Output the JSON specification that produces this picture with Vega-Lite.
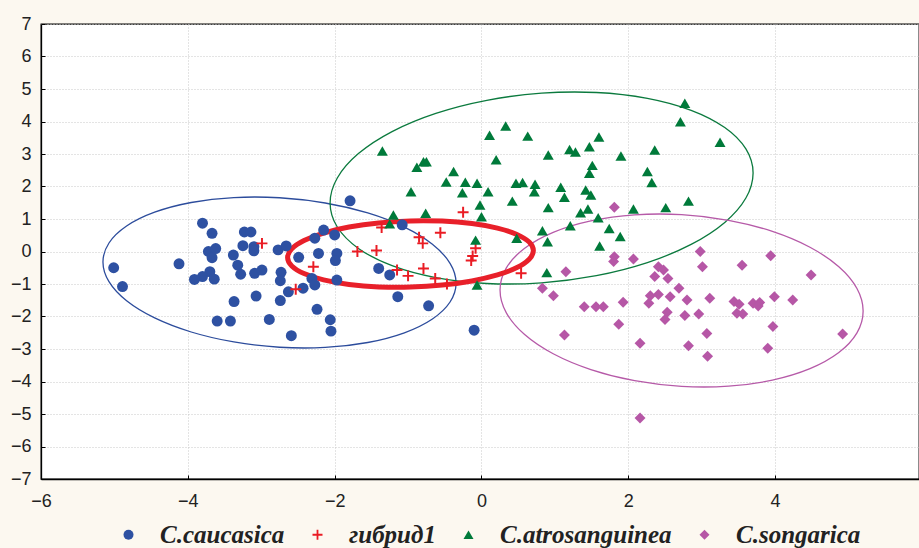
{
  "$schema": "https://vega.github.io/schema/vega-lite/v6.json",
  "autosize": "none",
  "padding": {"left": 41, "top": 24, "right": 0, "bottom": 69},
  "width": 878,
  "height": 455,
  "background": "#fcf8f0",
  "config": {
    "view": {"stroke": "#000000", "strokeWidth": 1.3, "fill": "#ffffff"}
  },
  "datasets": {
    "ell": [
      {"g":"b","i":0,"x":-0.346,"y":-0.969},{"g":"b","i":1,"x":-0.428,"y":-0.363},{"g":"b","i":2,"x":-0.668,"y":0.224},{"g":"b","i":3,"x":-1.050,"y":0.752},{"g":"b","i":4,"x":-1.549,"y":1.185},{"g":"b","i":5,"x":-2.129,"y":1.492},{"g":"b","i":6,"x":-2.751,"y":1.654},{"g":"b","i":7,"x":-3.373,"y":1.660},{"g":"b","i":8,"x":-3.954,"y":1.508},{"g":"b","i":9,"x":-4.452,"y":1.209},{"g":"b","i":10,"x":-4.834,"y":0.784},{"g":"b","i":11,"x":-5.074,"y":0.262},{"g":"b","i":12,"x":-5.156,"y":-0.323},{"g":"b","i":13,"x":-5.074,"y":-0.929},{"g":"b","i":14,"x":-4.834,"y":-1.516},{"g":"b","i":15,"x":-4.452,"y":-2.044},{"g":"b","i":16,"x":-3.954,"y":-2.477},{"g":"b","i":17,"x":-3.373,"y":-2.784},{"g":"b","i":18,"x":-2.751,"y":-2.946},{"g":"b","i":19,"x":-2.129,"y":-2.952},{"g":"b","i":20,"x":-1.549,"y":-2.800},{"g":"b","i":21,"x":-1.050,"y":-2.501},{"g":"b","i":22,"x":-0.668,"y":-2.076},{"g":"b","i":23,"x":-0.428,"y":-1.554},
      {"g":"g","i":0,"x":3.700,"y":2.416},{"g":"g","i":1,"x":3.602,"y":3.155},{"g":"g","i":2,"x":3.314,"y":3.813},{"g":"g","i":3,"x":2.856,"y":4.344},{"g":"g","i":4,"x":2.260,"y":4.712},{"g":"g","i":5,"x":1.565,"y":4.892},{"g":"g","i":6,"x":0.819,"y":4.872},{"g":"g","i":7,"x":0.073,"y":4.652},{"g":"g","i":8,"x":-0.622,"y":4.250},{"g":"g","i":9,"x":-1.218,"y":3.690},{"g":"g","i":10,"x":-1.676,"y":3.013},{"g":"g","i":11,"x":-1.964,"y":2.263},{"g":"g","i":12,"x":-2.062,"y":1.492},{"g":"g","i":13,"x":-1.964,"y":0.753},{"g":"g","i":14,"x":-1.676,"y":0.095},{"g":"g","i":15,"x":-1.218,"y":-0.436},{"g":"g","i":16,"x":-0.622,"y":-0.804},{"g":"g","i":17,"x":0.073,"y":-0.984},{"g":"g","i":18,"x":0.819,"y":-0.964},{"g":"g","i":19,"x":1.565,"y":-0.744},{"g":"g","i":20,"x":2.260,"y":-0.342},{"g":"g","i":21,"x":2.856,"y":0.218},{"g":"g","i":22,"x":3.314,"y":0.895},{"g":"g","i":23,"x":3.602,"y":1.645},
      {"g":"m","i":0,"x":5.199,"y":-1.833},{"g":"m","i":1,"x":5.115,"y":-1.137},{"g":"m","i":2,"x":4.868,"y":-0.468},{"g":"m","i":3,"x":4.475,"y":0.131},{"g":"m","i":4,"x":3.963,"y":0.618},{"g":"m","i":5,"x":3.366,"y":0.960},{"g":"m","i":6,"x":2.726,"y":1.134},{"g":"m","i":7,"x":2.086,"y":1.128},{"g":"m","i":8,"x":1.490,"y":0.942},{"g":"m","i":9,"x":0.977,"y":0.590},{"g":"m","i":10,"x":0.584,"y":0.094},{"g":"m","i":11,"x":0.337,"y":-0.511},{"g":"m","i":12,"x":0.253,"y":-1.184},{"g":"m","i":13,"x":0.337,"y":-1.879},{"g":"m","i":14,"x":0.584,"y":-2.548},{"g":"m","i":15,"x":0.977,"y":-3.147},{"g":"m","i":16,"x":1.490,"y":-3.634},{"g":"m","i":17,"x":2.086,"y":-3.976},{"g":"m","i":18,"x":2.726,"y":-4.150},{"g":"m","i":19,"x":3.366,"y":-4.144},{"g":"m","i":20,"x":3.963,"y":-3.958},{"g":"m","i":21,"x":4.475,"y":-3.606},{"g":"m","i":22,"x":4.868,"y":-3.110},{"g":"m","i":23,"x":5.115,"y":-2.505},
      {"g":"r","i":0,"x":0.707,"y":0.030},{"g":"r","i":1,"x":0.650,"y":0.290},{"g":"r","i":2,"x":0.483,"y":0.525},{"g":"r","i":3,"x":0.217,"y":0.720},{"g":"r","i":4,"x":-0.130,"y":0.859},{"g":"r","i":5,"x":-0.534,"y":0.935},{"g":"r","i":6,"x":-0.967,"y":0.942},{"g":"r","i":7,"x":-1.400,"y":0.880},{"g":"r","i":8,"x":-1.804,"y":0.752},{"g":"r","i":9,"x":-2.151,"y":0.568},{"g":"r","i":10,"x":-2.417,"y":0.340},{"g":"r","i":11,"x":-2.584,"y":0.083},{"g":"r","i":12,"x":-2.641,"y":-0.184},{"g":"r","i":13,"x":-2.584,"y":-0.444},{"g":"r","i":14,"x":-2.417,"y":-0.679},{"g":"r","i":15,"x":-2.151,"y":-0.874},{"g":"r","i":16,"x":-1.804,"y":-1.013},{"g":"r","i":17,"x":-1.400,"y":-1.089},{"g":"r","i":18,"x":-0.967,"y":-1.096},{"g":"r","i":19,"x":-0.534,"y":-1.034},{"g":"r","i":20,"x":-0.130,"y":-0.906},{"g":"r","i":21,"x":0.217,"y":-0.722},{"g":"r","i":22,"x":0.483,"y":-0.494},{"g":"r","i":23,"x":0.650,"y":-0.237}
    ],
    "pts": [
      {"sp":"C.caucasica","x":-5.01,"y":-0.50},{"sp":"C.caucasica","x":-4.89,"y":-1.08},{"sp":"C.caucasica","x":-4.12,"y":-0.38},{"sp":"C.caucasica","x":-3.80,"y":0.87},{"sp":"C.caucasica","x":-3.67,"y":0.56},{"sp":"C.caucasica","x":-3.72,"y":0.0},{"sp":"C.caucasica","x":-3.62,"y":0.09},{"sp":"C.caucasica","x":-3.67,"y":-0.19},{"sp":"C.caucasica","x":-3.70,"y":-0.62},{"sp":"C.caucasica","x":-3.64,"y":-0.85},{"sp":"C.caucasica","x":-3.80,"y":-0.77},{"sp":"C.caucasica","x":-3.91,"y":-0.86},{"sp":"C.caucasica","x":-3.23,"y":0.60},{"sp":"C.caucasica","x":-3.14,"y":0.60},{"sp":"C.caucasica","x":-3.25,"y":0.18},{"sp":"C.caucasica","x":-3.10,"y":0.15},{"sp":"C.caucasica","x":-3.10,"y":0.02},{"sp":"C.caucasica","x":-3.38,"y":-0.11},{"sp":"C.caucasica","x":-3.32,"y":-0.42},{"sp":"C.caucasica","x":-3.28,"y":-0.70},{"sp":"C.caucasica","x":-3.09,"y":-0.67},{"sp":"C.caucasica","x":-2.99,"y":-0.57},{"sp":"C.caucasica","x":-2.77,"y":0.05},{"sp":"C.caucasica","x":-2.66,"y":0.17},{"sp":"C.caucasica","x":-2.73,"y":-0.64},{"sp":"C.caucasica","x":-2.74,"y":-0.90},{"sp":"C.caucasica","x":-2.63,"y":-1.24},{"sp":"C.caucasica","x":-2.74,"y":-1.51},{"sp":"C.caucasica","x":-3.07,"y":-1.37},{"sp":"C.caucasica","x":-3.37,"y":-1.54},{"sp":"C.caucasica","x":-3.60,"y":-2.14},{"sp":"C.caucasica","x":-3.42,"y":-2.14},{"sp":"C.caucasica","x":-2.89,"y":-2.09},{"sp":"C.caucasica","x":-2.59,"y":-2.59},{"sp":"C.caucasica","x":-2.49,"y":-0.18},{"sp":"C.caucasica","x":-1.79,"y":1.56},{"sp":"C.caucasica","x":-1.08,"y":0.82},{"sp":"C.caucasica","x":-2.15,"y":0.66},{"sp":"C.caucasica","x":-2.00,"y":0.51},{"sp":"C.caucasica","x":-2.27,"y":0.41},{"sp":"C.caucasica","x":-2.22,"y":-0.06},{"sp":"C.caucasica","x":-1.97,"y":-0.06},{"sp":"C.caucasica","x":-1.99,"y":-0.28},{"sp":"C.caucasica","x":-2.31,"y":-0.83},{"sp":"C.caucasica","x":-2.27,"y":-1.03},{"sp":"C.caucasica","x":-1.97,"y":-0.88},{"sp":"C.caucasica","x":-2.43,"y":-1.13},{"sp":"C.caucasica","x":-1.40,"y":-0.52},{"sp":"C.caucasica","x":-1.25,"y":-0.72},{"sp":"C.caucasica","x":-1.14,"y":-1.39},{"sp":"C.caucasica","x":-0.72,"y":-1.67},{"sp":"C.caucasica","x":-2.24,"y":-1.78},{"sp":"C.caucasica","x":-2.06,"y":-2.10},{"sp":"C.caucasica","x":-2.05,"y":-2.45},{"sp":"C.caucasica","x":-0.10,"y":-2.42},
      {"sp":"гибрид1","x":-2.99,"y":0.25},{"sp":"гибрид1","x":-2.53,"y":-1.16},{"sp":"гибрид1","x":-2.29,"y":-0.47},{"sp":"гибрид1","x":-1.69,"y":0.0},{"sp":"гибрид1","x":-1.43,"y":0.03},{"sp":"гибрид1","x":-1.36,"y":0.74},{"sp":"гибрид1","x":-0.85,"y":0.44},{"sp":"гибрид1","x":-0.80,"y":0.25},{"sp":"гибрид1","x":-0.56,"y":0.58},{"sp":"гибрид1","x":-0.25,"y":1.21},{"sp":"гибрид1","x":-0.08,"y":0.10},{"sp":"гибрид1","x":-0.12,"y":-0.14},{"sp":"гибрид1","x":-0.14,"y":-0.28},{"sp":"гибрид1","x":-1.15,"y":-0.57},{"sp":"гибрид1","x":-1.0,"y":-0.75},{"sp":"гибрид1","x":-0.79,"y":-0.52},{"sp":"гибрид1","x":-0.63,"y":-0.83},{"sp":"гибрид1","x":-0.47,"y":-1.0},{"sp":"гибрид1","x":0.54,"y":-0.67},
      {"sp":"C.atrosanguinea","x":-1.35,"y":3.09},{"sp":"C.atrosanguinea","x":-0.88,"y":2.59},{"sp":"C.atrosanguinea","x":-0.79,"y":2.76},{"sp":"C.atrosanguinea","x":-0.75,"y":2.76},{"sp":"C.atrosanguinea","x":-0.38,"y":2.46},{"sp":"C.atrosanguinea","x":-0.96,"y":1.84},{"sp":"C.atrosanguinea","x":-0.48,"y":2.14},{"sp":"C.atrosanguinea","x":-0.22,"y":2.13},{"sp":"C.atrosanguinea","x":-0.06,"y":2.10},{"sp":"C.atrosanguinea","x":-0.26,"y":1.81},{"sp":"C.atrosanguinea","x":0.09,"y":1.84},{"sp":"C.atrosanguinea","x":0.11,"y":3.58},{"sp":"C.atrosanguinea","x":0.33,"y":3.86},{"sp":"C.atrosanguinea","x":0.20,"y":2.82},{"sp":"C.atrosanguinea","x":-0.02,"y":1.43},{"sp":"C.atrosanguinea","x":0.0,"y":1.07},{"sp":"C.atrosanguinea","x":0.42,"y":1.55},{"sp":"C.atrosanguinea","x":0.47,"y":2.10},{"sp":"C.atrosanguinea","x":-0.76,"y":1.18},{"sp":"C.atrosanguinea","x":-1.20,"y":1.12},{"sp":"C.atrosanguinea","x":-1.25,"y":0.85},{"sp":"C.atrosanguinea","x":-0.08,"y":0.35},{"sp":"C.atrosanguinea","x":0.48,"y":0.41},{"sp":"C.atrosanguinea","x":-0.06,"y":-1.03},{"sp":"C.atrosanguinea","x":0.63,"y":3.55},{"sp":"C.atrosanguinea","x":0.91,"y":2.97},{"sp":"C.atrosanguinea","x":1.20,"y":3.14},{"sp":"C.atrosanguinea","x":1.28,"y":3.06},{"sp":"C.atrosanguinea","x":1.47,"y":3.22},{"sp":"C.atrosanguinea","x":1.60,"y":3.52},{"sp":"C.atrosanguinea","x":1.51,"y":2.65},{"sp":"C.atrosanguinea","x":1.47,"y":2.41},{"sp":"C.atrosanguinea","x":1.90,"y":2.94},{"sp":"C.atrosanguinea","x":2.36,"y":3.12},{"sp":"C.atrosanguinea","x":2.77,"y":4.56},{"sp":"C.atrosanguinea","x":2.71,"y":3.99},{"sp":"C.atrosanguinea","x":3.25,"y":3.36},{"sp":"C.atrosanguinea","x":2.26,"y":2.46},{"sp":"C.atrosanguinea","x":2.32,"y":2.12},{"sp":"C.atrosanguinea","x":0.56,"y":2.12},{"sp":"C.atrosanguinea","x":0.73,"y":2.07},{"sp":"C.atrosanguinea","x":0.72,"y":1.84},{"sp":"C.atrosanguinea","x":1.08,"y":1.98},{"sp":"C.atrosanguinea","x":1.13,"y":1.67},{"sp":"C.atrosanguinea","x":0.91,"y":1.35},{"sp":"C.atrosanguinea","x":1.42,"y":1.89},{"sp":"C.atrosanguinea","x":1.49,"y":1.74},{"sp":"C.atrosanguinea","x":1.45,"y":1.31},{"sp":"C.atrosanguinea","x":1.35,"y":1.19},{"sp":"C.atrosanguinea","x":1.59,"y":1.04},{"sp":"C.atrosanguinea","x":1.21,"y":0.79},{"sp":"C.atrosanguinea","x":0.83,"y":0.64},{"sp":"C.atrosanguinea","x":0.90,"y":0.30},{"sp":"C.atrosanguinea","x":1.74,"y":0.71},{"sp":"C.atrosanguinea","x":1.89,"y":0.46},{"sp":"C.atrosanguinea","x":1.61,"y":0.17},{"sp":"C.atrosanguinea","x":2.07,"y":1.31},{"sp":"C.atrosanguinea","x":2.51,"y":1.35},{"sp":"C.atrosanguinea","x":2.82,"y":1.55},{"sp":"C.atrosanguinea","x":0.89,"y":-0.65},
      {"sp":"C.songarica","x":1.81,"y":1.36},{"sp":"C.songarica","x":1.81,"y":-0.16},{"sp":"C.songarica","x":1.80,"y":-0.31},{"sp":"C.songarica","x":2.07,"y":-0.23},{"sp":"C.songarica","x":1.15,"y":-0.62},{"sp":"C.songarica","x":0.83,"y":-1.13},{"sp":"C.songarica","x":0.98,"y":-1.36},{"sp":"C.songarica","x":1.40,"y":-1.70},{"sp":"C.songarica","x":1.56,"y":-1.70},{"sp":"C.songarica","x":1.66,"y":-1.70},{"sp":"C.songarica","x":1.93,"y":-1.56},{"sp":"C.songarica","x":1.87,"y":-2.24},{"sp":"C.songarica","x":1.13,"y":-2.57},{"sp":"C.songarica","x":2.16,"y":-2.82},{"sp":"C.songarica","x":2.41,"y":-0.47},{"sp":"C.songarica","x":2.48,"y":-0.57},{"sp":"C.songarica","x":2.36,"y":-0.77},{"sp":"C.songarica","x":2.54,"y":-0.83},{"sp":"C.songarica","x":2.69,"y":-1.13},{"sp":"C.songarica","x":2.30,"y":-1.36},{"sp":"C.songarica","x":2.41,"y":-1.32},{"sp":"C.songarica","x":2.28,"y":-1.59},{"sp":"C.songarica","x":2.57,"y":-1.39},{"sp":"C.songarica","x":2.80,"y":-1.49},{"sp":"C.songarica","x":2.53,"y":-1.87},{"sp":"C.songarica","x":2.50,"y":-2.09},{"sp":"C.songarica","x":2.77,"y":-1.97},{"sp":"C.songarica","x":2.82,"y":-2.90},{"sp":"C.songarica","x":2.98,"y":0.0},{"sp":"C.songarica","x":3.01,"y":-0.47},{"sp":"C.songarica","x":3.11,"y":-1.44},{"sp":"C.songarica","x":2.96,"y":-1.92},{"sp":"C.songarica","x":3.07,"y":-2.52},{"sp":"C.songarica","x":3.08,"y":-3.22},{"sp":"C.songarica","x":3.55,"y":-0.42},{"sp":"C.songarica","x":3.94,"y":-0.13},{"sp":"C.songarica","x":4.49,"y":-0.72},{"sp":"C.songarica","x":3.44,"y":-1.54},{"sp":"C.songarica","x":3.51,"y":-1.62},{"sp":"C.songarica","x":3.48,"y":-1.90},{"sp":"C.songarica","x":3.56,"y":-1.92},{"sp":"C.songarica","x":3.70,"y":-1.59},{"sp":"C.songarica","x":3.79,"y":-1.57},{"sp":"C.songarica","x":3.77,"y":-1.68},{"sp":"C.songarica","x":3.99,"y":-1.39},{"sp":"C.songarica","x":4.24,"y":-1.49},{"sp":"C.songarica","x":3.97,"y":-2.31},{"sp":"C.songarica","x":3.90,"y":-2.98},{"sp":"C.songarica","x":4.92,"y":-2.54},{"sp":"C.songarica","x":2.16,"y":-5.12}
    ]
  },
  "encoding": {
    "x": {"field": "x", "type": "quantitative", "scale": {"domain": [-6, 5.96], "nice": false, "zero": false},
      "axis": {"values": [-6, -4, -2, 0, 2, 4, 6], "title": null, "labelFont": "Liberation Sans", "labelFontSize": 18, "labelColor": "#222222", "labelPadding": 17, "labelFlush": false, "labelOverlap": false,
        "domainColor": "#000000", "domainWidth": 1.3, "tickColor": "#000000", "tickSize": -4, "grid": true, "gridColor": "#c8c8c8", "gridDash": [1, 2]}},
    "y": {"field": "y", "type": "quantitative", "scale": {"domain": [-7, 7], "nice": false, "zero": false},
      "axis": {"values": [-7, -6, -5, -4, -3, -2, -1, 0, 1, 2, 3, 4, 5, 6, 7], "title": null, "labelFont": "Liberation Sans", "labelFontSize": 18, "labelColor": "#222222", "labelPadding": 14, "labelFlush": false, "labelOverlap": false,
        "domainColor": "#000000", "domainWidth": 1.3, "tickColor": "#000000", "tickSize": -4, "grid": true, "gridColor": "#c8c8c8", "gridDash": [1, 2]}}
  },
  "layer": [
    {
      "data": {"name": "ell"},
      "transform": [{"filter": "datum.g !== 'r'"}],
      "mark": {"type": "line", "interpolate": "cardinal-closed", "strokeWidth": 1.3},
      "encoding": {
        "order": {"field": "i", "type": "quantitative"},
        "stroke": {"field": "g", "type": "nominal", "legend": null, "scale": {"domain": ["b", "g", "m"], "range": ["#2c4c9c", "#0b7a3e", "#b65aa8"]}}
      }
    },
    {
      "data": {"name": "ell"},
      "transform": [{"filter": "datum.g === 'r'"}],
      "mark": {"type": "line", "interpolate": "cardinal-closed", "strokeWidth": 5, "stroke": "#e8202a"},
      "encoding": {
        "order": {"field": "i", "type": "quantitative"}
      }
    },
    {
      "data": {"name": "pts"},
      "mark": {"type": "point", "filled": true, "opacity": 1, "strokeWidth": 0, "size": 120},
      "encoding": {
        "color": {"field": "sp", "type": "nominal",
          "scale": {"domain": ["C.caucasica", "гибрид1", "C.atrosanguinea", "C.songarica"], "range": ["#2e51a2", "#ea1c24", "#007a3a", "#b657a6"]},
          "legend": {"orient": "none", "legendX": 75, "legendY": 498, "direction": "horizontal", "title": null, "padding": 0,
            "labelFont": "Liberation Serif", "labelFontSize": 25, "labelFontWeight": "bold", "labelFontStyle": "italic", "labelColor": "#222222", "labelLimit": 400,
            "symbolSize": 100, "labelOffset": 19, "columnPadding": 20, "symbolStrokeWidth": 0}},
        "shape": {"field": "sp", "type": "nominal",
          "scale": {"domain": ["C.caucasica", "гибрид1", "C.atrosanguinea", "C.songarica"], "range": ["circle", "M-0.18,-1H0.18V-0.18H1V0.18H0.18V1H-0.18V0.18H-1V-0.18H-0.18Z", "triangle-up", "diamond"]}}
      }
    }
  ]
}
